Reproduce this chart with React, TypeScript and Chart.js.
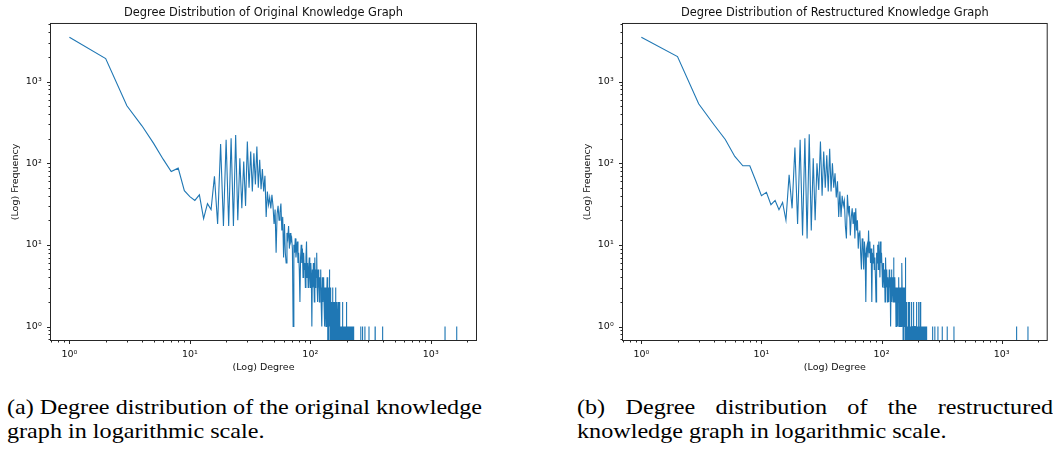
import React, { useEffect, useRef } from "react";
import { Chart, registerables } from "chart.js";

Chart.register(...registerables);

// ---------- DATA ----------
// Frequency of nodes for each degree, starting at degree 1
const originalFreq: number[] = [
  3480, 1910, 505, 287, 175, 112, 79, 87, 46, 39,
  35, 41, 21, 32, 27, 69, 18, 172, 17, 193,
  17, 202, 17, 222, 20, 115, 28, 105, 30, 184,
  50, 139, 45, 132, 55, 160, 50, 110, 48, 85,
  45, 70, 22, 45, 31, 38, 28, 41, 30, 18,
  27, 8, 24, 30, 20, 25, 32, 15, 22, 7,
  18, 8, 6, 14, 12, 17, 9, 14, 11, 12,
  9, 1, 10, 8, 12, 7, 9, 11, 6, 8,
  5, 2, 7, 10, 6, 9, 4, 8, 5, 6,
  3, 7, 11, 4, 6, 3, 5, 7, 4, 3,
  6, 4, 1, 5, 3, 6, 4, 2, 7, 3,
  5, 4, 8, 3, 2, 5, 3, 4, 2, 4,
  3, 5, 2, 3, 1, 4, 2, 3, 4, 2,
  3, 1, 3, 2, 1, 3, 2, 4, 2, 1,
  0, 3, 2, 5, 1, 3, 0, 2, 1, 2,
  0, 1, 3, 1, 2, 0, 1, 2, 1, 0,
  2, 1, 3, 0, 1, 2, 1, 0, 1, 2,
  0, 1, 0, 1, 1, 2, 0, 1, 0, 1,
  1, 0, 1, 0, 2, 1, 0, 1, 0, 1,
  0, 1, 0, 0, 1, 0, 1, 0, 2, 1,
  0, 1, 0, 0, 1, 0, 1, 0, 1, 0,
  0, 1, 0, 0, 1, 0, 0, 1, 0, 0,
  1, 0, 0, 0, 1, 0, 0, 1, 0, 0,
];
// Isolated high degrees that occur exactly once
const originalTailDegrees: number[] = [262, 271, 284, 307, 345, 398, 1313, 1642];

const restructuredFreq: number[] = [
  3490, 2020, 533, 300, 195, 121, 93, 93, 60, 40,
  44, 31, 35, 27, 33, 20, 72, 28, 156, 18,
  193, 13, 202, 12, 226, 15, 115, 20, 100, 47,
  184, 40, 139, 50, 125, 45, 150, 45, 100, 50,
  75, 38, 60, 22, 45, 22, 40, 30, 35, 17,
  12, 41, 25, 30, 13, 22, 28, 18, 25, 12,
  28, 15, 20, 9, 14, 15, 8, 5, 12, 10,
  5, 11, 8, 2, 9, 10, 7, 15, 8, 11,
  6, 9, 2, 8, 6, 10, 5, 7, 4, 2,
  8, 6, 10, 5, 11, 7, 4, 11, 6, 8,
  5, 3, 6, 4, 3, 5, 2, 7, 4, 3,
  5, 2, 4, 3, 2, 5, 3, 4, 1, 3,
  5, 2, 4, 3, 2, 7, 3, 2, 4, 2,
  3, 1, 2, 3, 2, 1, 3, 2, 4, 1,
  2, 3, 1, 2, 3, 1, 2, 6, 2, 1,
  3, 1, 0, 2, 1, 3, 1, 7, 1, 0,
  1, 2, 0, 1, 1, 0, 2, 1, 0, 1,
  2, 0, 1, 1, 0, 1, 2, 0, 1, 1,
  0, 1, 0, 1, 1, 2, 0, 1, 0, 1,
  1, 0, 1, 0, 2, 1, 0, 1, 0, 1,
  0, 1, 0, 2, 0, 1, 0, 1, 0, 2,
  0, 1, 0, 0, 1, 0, 1, 0, 0, 1,
  0, 0, 1, 0, 0, 1, 0, 0, 0, 1,
  0, 0, 0, 1, 0, 0, 1, 0, 0, 0,
];
const restructuredTailDegrees: number[] = [266, 278, 295, 320, 352, 401, 1333, 1657];

const majorTicks: number[] = [1, 10, 100, 1000];
const majorTickLabels: string[] = ["10⁰", "10¹", "10²", "10³"];

const titles: string[] = [
  "Degree Distribution of Original Knowledge Graph",
  "Degree Distribution of Restructured Knowledge Graph",
];
const xAxisTitle = "(Log) Degree";
const yAxisTitle = "(Log) Frequency";
const captionA: string[] = [
  "(a) Degree distribution of the original knowledge",
  "graph in logarithmic scale.",
];
const captionB: string[] = [
  "(b) Degree distribution of the restructured",
  "knowledge graph in logarithmic scale.",
];

// ---------- STYLE ----------
const X_MIN = 0.69;
const X_MAX = 2420;
const Y_MIN = 0.665;
const Y_MAX = 5210;
const LINE_COLOR = "#1f77b4";
const INK = "#111111";
const SPINE = "#262626";
const FONT = "'DejaVu Sans', sans-serif";
const ZERO_FLOOR = 1e-6; // log axes clip zero counts to the bottom, like matplotlib

function buildPoints(freq: number[], tail: number[]) {
  const pts = freq.map((f, i) => ({ x: i + 1, y: f > 0 ? f : ZERO_FLOOR }));
  tail.forEach((d) => {
    pts.push({ x: d - 1, y: ZERO_FLOOR }, { x: d, y: 1 }, { x: d + 1, y: ZERO_FLOOR });
  });
  return pts;
}

function logTickValues(min: number, max: number) {
  const out: number[] = [];
  for (let e = -1; e <= 4; e++) {
    for (let m = 1; m <= 9; m++) {
      const v = m * Math.pow(10, e);
      if (v >= min && v <= max) out.push(v);
    }
  }
  return out;
}

const isMajor = (v: number) => majorTicks.some((t) => Math.abs(t - v) < 1e-9);
const tickLabel = (v: number) => {
  const i = majorTicks.findIndex((t) => Math.abs(t - v) < 1e-9);
  return i >= 0 ? majorTickLabels[i] : "";
};

const framePlugin = {
  id: "axesFrame",
  afterDraw(chart: any) {
    const { ctx, chartArea: a } = chart;
    const xs = chart.scales.x;
    const ys = chart.scales.y;
    ctx.save();
    ctx.strokeStyle = SPINE;
    ctx.lineWidth = 1;
    const L = a.left + 0.5;
    const R = a.right - 0.5;
    const T = a.top + 0.5;
    const B = a.bottom - 0.5;
    ctx.strokeRect(L, T, R - L, B - T);
    ctx.beginPath();
    xs.ticks.forEach((t: any) => {
      const px = Math.round(xs.getPixelForValue(t.value)) + 0.5;
      const len = isMajor(t.value) ? 3.5 : 2;
      ctx.moveTo(px, B);
      ctx.lineTo(px, B + len);
    });
    ys.ticks.forEach((t: any) => {
      const py = Math.round(ys.getPixelForValue(t.value)) + 0.5;
      const len = isMajor(t.value) ? 3.5 : 2;
      ctx.moveTo(L, py);
      ctx.lineTo(L - len, py);
    });
    ctx.stroke();
    ctx.restore();
  },
};

function DegreePlot(props: {
  title: string;
  freq: number[];
  tail: number[];
  left: number;
  width: number;
  padRight: number;
}) {
  const ref = useRef<HTMLCanvasElement | null>(null);
  useEffect(() => {
    if (!ref.current) return;
    const tickFont = { family: FONT, size: 9.5 };
    const chart = new Chart(ref.current, {
      type: "line",
      data: {
        datasets: [
          {
            data: buildPoints(props.freq, props.tail),
            borderColor: LINE_COLOR,
            borderWidth: 1.1,
            pointRadius: 0,
            tension: 0,
            fill: false,
          },
        ],
      },
      options: {
        animation: false,
        responsive: false,
        devicePixelRatio: 1,
        events: [],
        layout: { padding: { top: 0, left: 0, right: props.padRight, bottom: 0 }, autoPadding: false },
        plugins: {
          legend: { display: false },
          tooltip: { enabled: false },
          title: {
            display: true,
            text: props.title,
            fullSize: false,
            color: INK,
            font: { family: FONT, size: 11.4, weight: "normal" },
            padding: { top: 6.2, bottom: 3.1 },
          },
        },
        scales: {
          x: {
            type: "logarithmic",
            min: X_MIN,
            max: X_MAX,
            afterBuildTicks: (s: any) => {
              s.ticks = logTickValues(s.min, s.max).map((v) => ({ value: v, major: isMajor(v) }));
            },
            afterFit: (s: any) => {
              s.height = 34;
            },
            grid: { display: false, drawTicks: false },
            border: { display: false },
            ticks: {
              autoSkip: false,
              maxRotation: 0,
              padding: 8,
              color: INK,
              font: tickFont,
              callback: (v: any) => tickLabel(Number(v)),
            },
            title: { display: true, text: xAxisTitle, color: INK, font: tickFont, padding: { top: 0, bottom: 1.3 } },
          },
          y: {
            type: "logarithmic",
            min: Y_MIN,
            max: Y_MAX,
            afterBuildTicks: (s: any) => {
              s.ticks = logTickValues(s.min, s.max).map((v) => ({ value: v, major: isMajor(v) }));
            },
            afterFit: (s: any) => {
              s.width = 50;
            },
            grid: { display: false, drawTicks: false },
            border: { display: false },
            ticks: {
              autoSkip: false,
              padding: 8.3,
              color: INK,
              font: tickFont,
              callback: (v: any) => tickLabel(Number(v)),
            },
            title: { display: true, text: yAxisTitle, color: INK, font: tickFont, padding: { top: 10, bottom: 0 } },
          },
        },
      } as any,
      plugins: [framePlugin],
    });
    return () => chart.destroy();
  }, []);
  return (
    <div style={{ position: "absolute", left: props.left, top: 0, width: props.width, height: 375 }}>
      <canvas ref={ref} width={props.width} height={375} style={{ display: "block" }} />
    </div>
  );
}

const CAPTION_STRETCH = 1.15;

function Caption(props: { lines: string[]; left: number; width: number }) {
  const base: React.CSSProperties = {
    fontFamily: "'Liberation Serif', 'Times New Roman', serif",
    fontSize: 21,
    lineHeight: "24px",
    color: "#000",
    whiteSpace: "nowrap",
  };
  return (
    <div
      style={{
        position: "absolute",
        left: props.left,
        top: 395,
        width: props.width / CAPTION_STRETCH,
        transform: `scaleX(${CAPTION_STRETCH})`,
        transformOrigin: "0 0",
      }}
    >
      <div style={{ ...base, textAlign: "justify", textAlignLast: "justify" }}>{props.lines[0]}</div>
      <div style={{ ...base, textAlign: "left" }}>{props.lines[1]}</div>
    </div>
  );
}

export default function App() {
  return (
    <div
      style={{
        position: "absolute",
        left: 0,
        top: 0,
        width: 1053,
        height: 449,
        background: "#fff",
        overflow: "hidden",
      }}
    >
      <DegreePlot title={titles[0]} freq={originalFreq} tail={originalTailDegrees} left={0} width={490} padRight={13} />
      <DegreePlot
        title={titles[1]}
        freq={restructuredFreq}
        tail={restructuredTailDegrees}
        left={572}
        width={481}
        padRight={5.3}
      />
      <Caption lines={captionA} left={7} width={475} />
      <Caption lines={captionB} left={577} width={476} />
    </div>
  );
}
